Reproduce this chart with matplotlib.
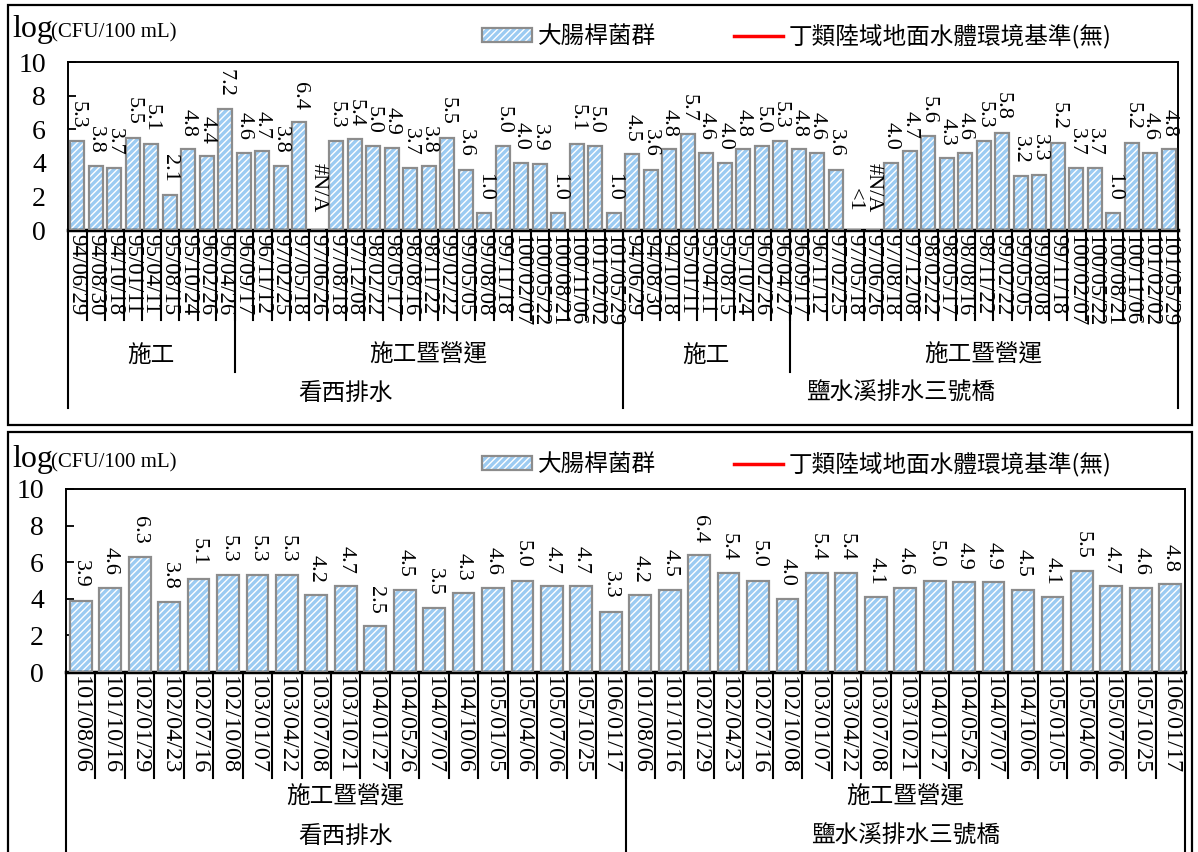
import matplotlib
matplotlib.use("Agg")
import matplotlib.pyplot as plt
from matplotlib.patches import Patch, Rectangle
from matplotlib.lines import Line2D

# ---------------------------------------------------------------
# Data: log(CFU/100 mL) of E. coli group at two stations
# ---------------------------------------------------------------
stations = ["看西排水", "鹽水溪排水三號橋"]

# top panel (94 ~ 101)
top_phase1_dates = ["94/06/29", "94/08/30", "94/10/18", "95/01/11", "95/04/11",
                    "95/08/15", "95/10/24", "96/02/26", "96/04/26"]
top_phase2_dates = ["96/09/17", "96/11/12", "97/02/25", "97/05/18", "97/06/26",
                    "97/08/18", "97/12/08", "98/02/22", "98/05/17", "98/08/16",
                    "98/11/22", "99/02/22", "99/05/05", "99/08/08", "99/11/18",
                    "100/02/07", "100/05/22", "100/08/21", "100/11/06",
                    "101/02/02", "101/05/29"]
# station 2 has 96/04/27 instead of 96/04/26
top_phase1_dates_b = top_phase1_dates[:-1] + ["96/04/27"]

top_vals_a = [5.3, 3.8, 3.7, 5.5, 5.1, 2.1, 4.8, 4.4, 7.2,
              4.6, 4.7, 3.8, 6.4, "#N/A", 5.3, 5.4, 5.0, 4.9, 3.7, 3.8,
              5.5, 3.6, 1.0, 5.0, 4.0, 3.9, 1.0, 5.1, 5.0, 1.0]
top_vals_b = [4.5, 3.6, 4.8, 5.7, 4.6, 4.0, 4.8, 5.0, 5.3,
              4.8, 4.6, 3.6, "<1", "#N/A", 4.0, 4.7, 5.6, 4.3, 4.6, 5.3,
              5.8, 3.2, 3.3, 5.2, 3.7, 3.7, 1.0, 5.2, 4.6, 4.8]

# bottom panel (101 ~ 106)
bot_dates = ["101/08/06", "101/10/16", "102/01/29", "102/04/23", "102/07/16",
             "102/10/08", "103/01/07", "103/04/22", "103/07/08", "103/10/21",
             "104/01/27", "104/05/26", "104/07/07", "104/10/06", "105/01/05",
             "105/04/06", "105/07/06", "105/10/25", "106/01/17"]
bot_vals_a = [3.9, 4.6, 6.3, 3.8, 5.1, 5.3, 5.3, 5.3, 4.2, 4.7,
              2.5, 4.5, 3.5, 4.3, 4.6, 5.0, 4.7, 4.7, 3.3]
bot_vals_b = [4.2, 4.5, 6.4, 5.4, 5.0, 4.0, 5.4, 5.4, 4.1, 4.6,
              5.0, 4.9, 4.9, 4.5, 4.1, 5.5, 4.7, 4.6, 4.8]

series_name = "大腸桿菌群"
std_name = "丁類陸域地面水體環境基準(無)"

# ---------------------------------------------------------------
W, H = 1198, 852
plt.rcParams["hatch.linewidth"] = 1.0
SERIF = ["Liberation Serif", "Noto Sans CJK TC"]
CJK = ["Noto Sans CJK TC", "Liberation Serif"]
BLUE = "#9ccbf2"
EDGE = "#8c8c8c"

fig = plt.figure(figsize=(W / 100, H / 100), dpi=100)


def fx(px):
    return px / W


def fy(py):
    return 1 - py / H


def make_axes(left, right, top, bottom):
    return fig.add_axes([fx(left), fy(bottom), fx(right - left), (bottom - top) / H])


def draw_panel(ax, dates, vals, groups, date_sep, phase_sep, st_sep,
               phase_y, st_y, legend_y, ylab_y, bar_w, date_fs):
    n = len(vals)
    xs = list(range(n))
    heights = [v if isinstance(v, float) else 0 for v in vals]
    ax.bar(xs, heights, width=bar_w, color=BLUE, edgecolor="white",
           hatch="/////", linewidth=0, zorder=2)
    ax.bar(xs, heights, width=bar_w, fill=False, edgecolor=EDGE,
           linewidth=1.6, zorder=3)
    for x, v in zip(xs, vals):
        if isinstance(v, float):
            txt, h, off = "%.1f" % v, v, 9
        else:
            txt, h, off = v, 0, 13
        ax.annotate(txt, (x, h), xytext=(0, off), textcoords="offset points",
                    rotation=270, ha="center", va="bottom", fontsize=16,
                    family=SERIF, zorder=4)

    ax.set_xlim(-0.5, n - 0.5)
    ax.set_ylim(0, 10)
    ax.set_yticks(range(0, 11, 2))
    ax.set_yticklabels([str(t) for t in range(0, 11, 2)], family=SERIF, fontsize=20)
    ax.tick_params(axis="y", direction="in", length=6, width=1.3, pad=16)
    ax.set_xticks(xs)
    ax.set_xticklabels(dates, rotation=270, family=SERIF, fontsize=date_fs)
    ax.tick_params(axis="x", length=0, pad=3)
    for s in ["top", "right", "left"]:
        ax.spines[s].set_linewidth(1.4)
    ax.spines["bottom"].set_linewidth(2.5)

    tr = ax.get_xaxis_transform()
    # separators between dates
    for i in range(1, n):
        ax.plot([i - 0.5, i - 0.5], [0, date_sep], color="black", lw=1.5,
                transform=tr, clip_on=False, zorder=5)
    # phase groups: (start, end, phase label, ends a station)
    for start, end, phase, st_end in groups:
        ax.text((start + end - 1) / 2, phase_y, phase, transform=tr,
                ha="center", va="center", fontsize=17, family=CJK)
        ax.plot([end - 0.5, end - 0.5], [0, st_sep if st_end else phase_sep],
                color="black", lw=1.5, transform=tr, clip_on=False, zorder=5)
    ax.plot([-0.5, -0.5], [0, st_sep], color="black", lw=1.5, transform=tr,
            clip_on=False, zorder=5)
    half = n // 2
    for k, name in enumerate(stations):
        ax.text(k * half + (half - 1) / 2, st_y, name, transform=tr,
                ha="center", va="center", fontsize=17, family=CJK)

    # y unit label
    fig.text(fx(12), fy(ylab_y), "log", fontsize=23, family=SERIF, va="baseline")
    fig.text(fx(51), fy(ylab_y), "(CFU/100 mL)", fontsize=15, family=SERIF,
             va="baseline")

    bar_handle = (Patch(facecolor=BLUE, edgecolor="white", hatch="/////", lw=0),
                  Patch(fill=False, edgecolor=EDGE, lw=1.6))
    line_handle = Line2D([], [], color="red", lw=2.5)
    fig.legend([bar_handle, line_handle], [series_name, std_name],
               loc="center", bbox_to_anchor=(fx(797), fy(legend_y)),
               ncol=2, frameon=False, handlelength=2.1, handleheight=0.55,
               handletextpad=0.25, columnspacing=3.3,
               prop={"family": CJK, "size": 17})


# ---------------- top panel ----------------
top_dates = top_phase1_dates + top_phase2_dates + top_phase1_dates_b + top_phase2_dates
top_vals = [float(v) if not isinstance(v, str) else v for v in top_vals_a + top_vals_b]
ax1 = make_axes(68, 1178, 62, 230)
h1 = 230 - 62
draw_panel(ax1, top_dates, top_vals,
           [(0, 9, "施工", False), (9, 30, "施工暨營運", True),
            (30, 39, "施工", False), (39, 60, "施工暨營運", True)],
           -90 / h1, -142 / h1, -178 / h1, -125 / h1, -163 / h1,
           36, 37, 0.76, 16.5)

# ---------------- bottom panel ----------------
bot_all_dates = bot_dates + bot_dates
bot_vals = [float(v) for v in bot_vals_a + bot_vals_b]
ax2 = make_axes(66, 1185, 489, 672)
h2 = 672 - 489
draw_panel(ax2, bot_all_dates, bot_vals,
           [(0, 19, "施工暨營運", True), (19, 38, "施工暨營運", True)],
           -106 / h2, -200 / h2, -200 / h2, -125 / h2, -164 / h2,
           464, 467, 0.74, 17.5)

# panel borders
for top, bottom in [(5, 425), (432, 870)]:
    fig.add_artist(Rectangle((fx(8), fy(bottom)), fx(1192 - 8), (bottom - top) / H,
                             transform=fig.transFigure, fill=False,
                             edgecolor="black", lw=1.6))

fig.savefig("out.png", dpi=100)
